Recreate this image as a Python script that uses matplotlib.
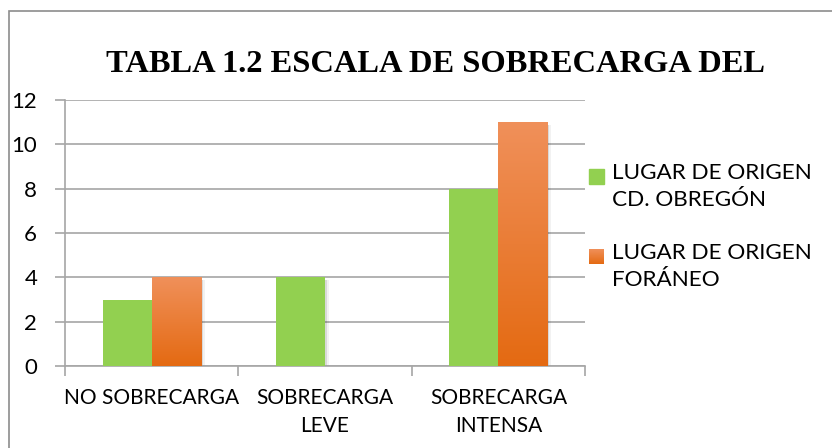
import matplotlib
matplotlib.use("Agg")
import matplotlib.pyplot as plt
import numpy as np
from matplotlib.patches import Rectangle
from matplotlib.colors import LinearSegmentedColormap

categories = ["NO SOBRECARGA", "SOBRECARGA\nLEVE", "SOBRECARGA\nINTENSA"]
series_names = ["LUGAR DE ORIGEN\nCD. OBREGÓN", "LUGAR DE ORIGEN\nFORÁNEO"]
obregon = [3, 4, 8]
foraneo = [4, 0, 11]
yticks = [0, 2, 4, 6, 8, 10, 12]
title = "TABLA 1.2 ESCALA DE SOBRECARGA DEL"

green = "#92D050"
orange_top = "#F0905A"
orange_bot = "#E46A12"
grid_col = "#A6A6A6"
sans = ["Lato", "DejaVu Sans"]

W, H = 832, 448
fig = plt.figure(figsize=(W / 100, H / 100), dpi=100)
fig.patch.set_facecolor("white")

# outer chart border
fig.patches.append(Rectangle((9 / W, -0.05), 1.1, 1 - 11 / H + 0.05,
                             transform=fig.transFigure, fill=False,
                             edgecolor="#8C8C8C", linewidth=1.2))

ax = fig.add_axes([65 / W, (H - 366) / H, (585 - 65) / W, (366 - 100) / H])
ax.set_xlim(-0.5, 2.5)
ax.set_ylim(0, 12)

x = np.arange(len(categories))
bw = 0.283
# soft shadows
for dx, a in [(0.012, 0.10), (0.022, 0.05)]:
    ax.bar(x - bw / 2 + dx, obregon, bw, bottom=-0.12, color="black", alpha=a, linewidth=0, zorder=2)
    ax.bar(x + bw / 2 + dx, foraneo, bw, bottom=-0.12, color="black", alpha=a, linewidth=0, zorder=2)

bars_g = ax.bar(x - bw / 2, obregon, bw, color=green, linewidth=0, zorder=3)
bars_o = ax.bar(x + bw / 2, foraneo, bw, color=orange_bot, linewidth=0, zorder=3)

cmap = LinearSegmentedColormap.from_list("og", [orange_bot, orange_top])
grad = np.linspace(0, 1, 256).reshape(-1, 1)
for b in bars_o:
    h = b.get_height()
    if h <= 0:
        continue
    x0 = b.get_x()
    im = ax.imshow(grad, cmap=cmap, origin="lower", aspect="auto",
                   extent=[x0, x0 + b.get_width(), 0, h], zorder=3.5)
    im.set_clip_path(b)
ax.set_xlim(-0.5, 2.5)
ax.set_ylim(0, 12)

# grid
ax.set_yticks(yticks)
ax.yaxis.grid(True, color=grid_col, linewidth=1.2, zorder=1)
ax.set_axisbelow(True)
for s in ["top", "right"]:
    ax.spines[s].set_visible(False)
ax.spines["left"].set_color(grid_col)
ax.spines["bottom"].set_color(grid_col)
ax.spines["left"].set_linewidth(1.2)
ax.spines["bottom"].set_linewidth(1.2)

ax.tick_params(axis="y", length=7, width=1.2, color=grid_col, pad=13,
               labelsize=16, labelcolor="black")
for lab in ax.get_yticklabels():
    lab.set_fontfamily(sans)

# x ticks at category boundaries, labels at centers
ax.set_xticks([-0.5, 0.5, 1.5, 2.5])
ax.set_xticklabels([])
ax.tick_params(axis="x", which="major", length=7, width=1.2, color=grid_col)
ax.set_xticks(x, minor=True)
ax.set_xticklabels(categories, minor=True, fontsize=15, family=sans,
                   linespacing=1.5)
ax.tick_params(axis="x", which="minor", length=0, pad=16)

fig.text(436 / W, 1 - 65 / H, title, ha="center", va="center",
         fontsize=23.4, fontweight="bold", family="Liberation Serif")

# legend
leg_y = [169, 249]
for i, name in enumerate(series_names):
    y0 = leg_y[i]
    if i == 0:
        fig.patches.append(Rectangle((589 / W, 1 - (y0 + 15) / H), 15 / W, 15 / H,
                                     transform=fig.transFigure, color=green))
    else:
        axl = fig.add_axes([589 / W, 1 - (y0 + 15) / H, 15 / W, 15 / H])
        axl.imshow(grad, cmap=cmap, origin="lower", aspect="auto")
        axl.axis("off")
    fig.text(612 / W, 1 - (y0 - 6) / H, name, ha="left", va="top",
             fontsize=16.2, family=sans, linespacing=1.42)

fig.savefig("out.png", dpi=100, facecolor="white")
